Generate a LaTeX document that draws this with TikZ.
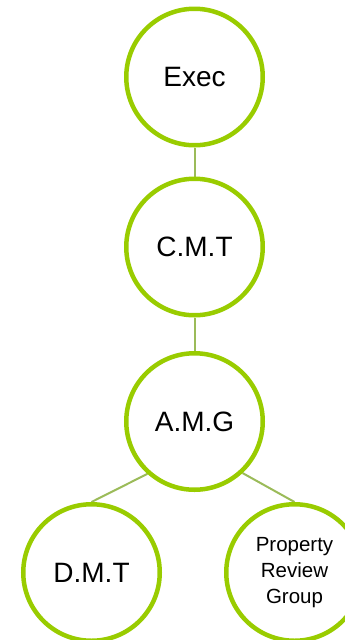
\documentclass[tikz,border=0pt]{standalone}
\usepackage{fontspec}
\setmainfont{Liberation Sans}
\usetikzlibrary{backgrounds}
\definecolor{ringgreen}{HTML}{99CC00}
\definecolor{linkgreen}{HTML}{9BBB59}
\begin{document}
\begin{tikzpicture}[x=1pt,y=1pt,
  ring/.style={circle,draw=ringgreen,line width=4.5pt,fill=white,minimum size=136.5pt,inner sep=0pt,align=center,font=\fontsize{28}{32}\selectfont},
  smallring/.style={ring,font=\fontsize{20.5}{26}\selectfont},
  link/.style={draw=linkgreen,line width=2pt}]
\useasboundingbox (0,0) rectangle (345,-640);
\begin{scope}
\clip (0,0) rectangle (345,-640);
\node[ring] (exec) at (194.5,-77) {Exec};
\node[ring] (cmt) at (194.5,-247) {C.M.T};
\node[ring] (amg) at (194.5,-421.5) {A.M.G};
\node[ring] (dmt) at (91.5,-572.5) {D.M.T};
\node[smallring] (prg) at (294.5,-572.5) {Property\\Review\\Group};
\begin{pgfonlayer}{background}
\draw[link] (exec.south) -- (cmt.north);
\draw[link] (cmt.south) -- (amg.north);
\draw[link] (amg.-132) -- (dmt.north);
\draw[link] (amg.-47) -- (prg.north);
\end{pgfonlayer}
\end{scope}
\end{tikzpicture}
\end{document}
